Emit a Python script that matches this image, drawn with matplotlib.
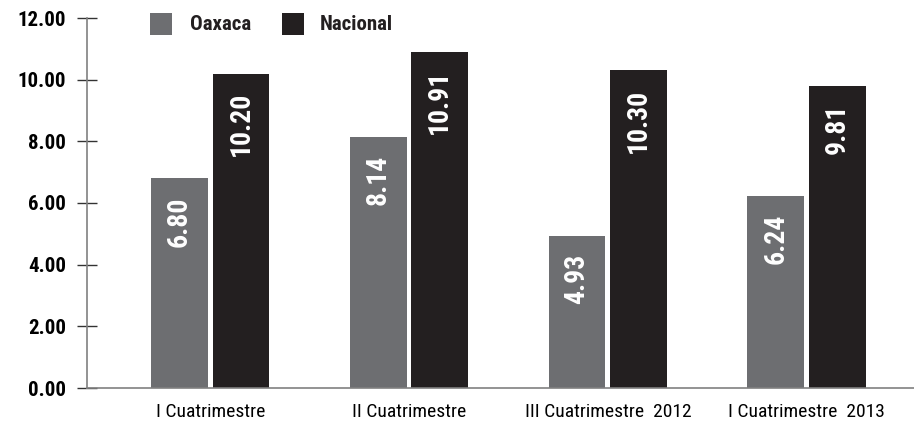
import matplotlib
matplotlib.use("Agg")
import matplotlib.pyplot as plt
from matplotlib import font_manager as fm
from matplotlib.patches import Rectangle
import numpy as np

categories = ["I Cuatrimestre", "II Cuatrimestre", "III Cuatrimestre  2012", "I Cuatrimestre  2013"]
oaxaca = [6.80, 8.14, 4.93, 6.24]
nacional = [10.20, 10.91, 10.30, 9.81]
yticks = [0, 2, 4, 6, 8, 10, 12]
series_names = ["Oaxaca", "Nacional"]

avail = {f.name for f in fm.fontManager.ttflist}
main = next((n for n in ["Liberation Sans Narrow", "Roboto Condensed", "Open Sans Condensed",
                         "Roboto", "Liberation Sans"] if n in avail), "DejaVu Sans")
FAM = [main, "DejaVu Sans"]
plt.rcParams['font.family'] = FAM

GRAY = "#6d6e71"
BLACK = "#231f20"
W, H = 914, 428

fig = plt.figure(figsize=(W/100, H/100), dpi=100)
ax = fig.add_axes([87/W, 40/H, 1 - 87/W, (388-18)/H])

x = np.arange(len(categories))
w = 0.286
off = 0.155
b1 = ax.bar(x - off, oaxaca, w, color=GRAY)
b2 = ax.bar(x + off, nacional, w, color=BLACK)

for bars, vals in ((b1, oaxaca), (b2, nacional)):
    for r, v in zip(bars, vals):
        ax.annotate(f"{v:.2f}", (r.get_x() + r.get_width()/2, v),
                    xytext=(0, -13), textcoords="offset points",
                    rotation=90, ha="center", va="top", color="white",
                    fontsize=20, fontweight="bold", family=FAM)

ax.set_xlim(-0.62, 3.54)
ax.set_ylim(0, 12)
ax.set_yticks(yticks)
ax.set_yticklabels([f"{t:.2f}" for t in yticks], fontsize=15, fontweight="bold")
ax.set_xticks(x)
ax.set_xticklabels(categories, fontsize=14)
ax.tick_params(axis="x", length=0, pad=11)
ax.tick_params(axis="y", direction="inout", length=14, width=1, color="#333333", pad=8)

for s in ("top", "right"):
    ax.spines[s].set_visible(False)
ax.spines["left"].set_color("#808080")
ax.spines["bottom"].set_color("#808080")
ax.spines["left"].set_linewidth(1.2)
ax.spines["bottom"].set_linewidth(1.2)

# legend drawn in figure pixel coordinates
leg_items = [(150, GRAY, 190, series_names[0]), (282, BLACK, 320, series_names[1])]
for sx, col, tx, name in leg_items:
    fig.patches.append(Rectangle((sx/W, 1 - 35/H), 22/W, 22/H, transform=fig.transFigure,
                                 facecolor=col, edgecolor="none"))
    fig.text(tx/W, 1 - 24/H, name, ha="left", va="center", fontsize=15,
             fontweight="bold", family=FAM, color=BLACK)

fig.savefig("out.png", dpi=100)
